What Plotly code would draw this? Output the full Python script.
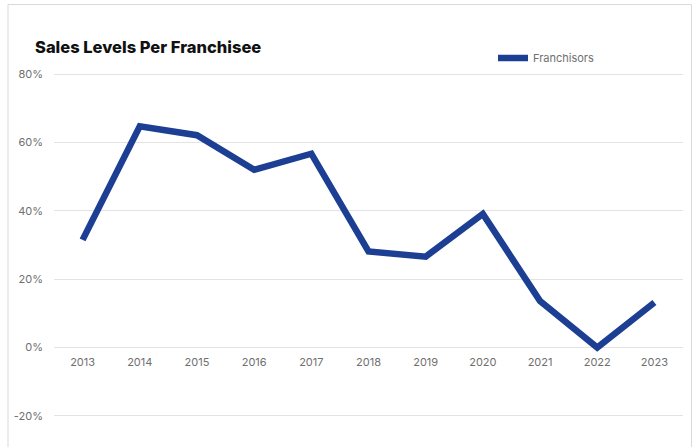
import plotly.graph_objects as go

# Sales level change per franchisee, by year
years = ["2013", "2014", "2015", "2016", "2017", "2018",
         "2019", "2020", "2021", "2022", "2023"]
franchisors = [31.5, 64.7, 62.1, 52.0, 56.7, 28.1, 26.6, 39.1, 13.6, 0.0, 13.2]

y_ticks = [-20, 0, 20, 40, 60, 80]
y_labels = ["-20%", "0%", "20%", "40%", "60%", "80%"]

LINE_BLUE = "#1c3f94"
GRID = "#e3e3e3"
TICK_GREY = "#6f6f6f"

W, H = 697, 447
M = dict(l=54, r=14, t=73, b=30)
plot_w = W - M["l"] - M["r"]
plot_h = H - M["t"] - M["b"]
Y_PAD = 0.3  # keeps the outermost gridlines inside the plot area


def px_to_paper_x(px):
    return (px - M["l"]) / plot_w


def px_to_paper_y(py):
    return (H - M["b"] - py) / plot_h


fig = go.Figure()
fig.add_trace(go.Scatter(
    x=years,
    y=franchisors,
    mode="lines",
    name="Franchisors",
    line=dict(color=LINE_BLUE, width=6.5),
    hovertemplate="%{x}: %{y:.1f}%<extra></extra>",
))

y_lo, y_hi = y_ticks[0] - Y_PAD, y_ticks[-1] + Y_PAD

fig.update_layout(
    width=W,
    height=H,
    margin=M,
    paper_bgcolor="white",
    plot_bgcolor="white",
    font=dict(family="Inter, Roboto, sans-serif", size=11, color=TICK_GREY),
    title=dict(
        text="Sales Levels Per Franchisee",
        font=dict(family="Inter, Roboto, sans-serif", size=16.5,
                  color="#111111", weight=800),
        x=35 / W, xref="container", xanchor="left",
        y=1 - 47 / H, yref="container", yanchor="middle",
    ),
    showlegend=True,
    legend=dict(
        orientation="h",
        x=px_to_paper_x(493), xanchor="left",
        y=px_to_paper_y(58), yanchor="middle",
        font=dict(size=11, color=TICK_GREY),
        itemwidth=30,
        bgcolor="rgba(0,0,0,0)",
    ),
    xaxis=dict(
        type="category",
        range=[-0.5, len(years) - 0.5],
        showgrid=False,
        showline=False,
        zeroline=False,
        ticks="",
        anchor="free",
        position=(0 - y_lo) / (y_hi - y_lo),
        ticklabelstandoff=6,
        tickfont=dict(size=11, color=TICK_GREY),
    ),
    yaxis=dict(
        range=[y_lo, y_hi],
        tickvals=y_ticks,
        ticktext=y_labels,
        showgrid=True,
        gridcolor=GRID,
        gridwidth=1,
        zeroline=False,
        showline=False,
        ticks="",
        ticklabelstandoff=10,
        tickfont=dict(size=11, color=TICK_GREY),
    ),
    shapes=[
        dict(
            type="rect", xref="paper", yref="paper", layer="below",
            x0=px_to_paper_x(8), x1=px_to_paper_x(691.5),
            y0=px_to_paper_y(470), y1=px_to_paper_y(4.5),
            line=dict(color="#d9d9d9", width=1),
            fillcolor="rgba(0,0,0,0)",
        )
    ],
)

fig.write_html("out.html")
